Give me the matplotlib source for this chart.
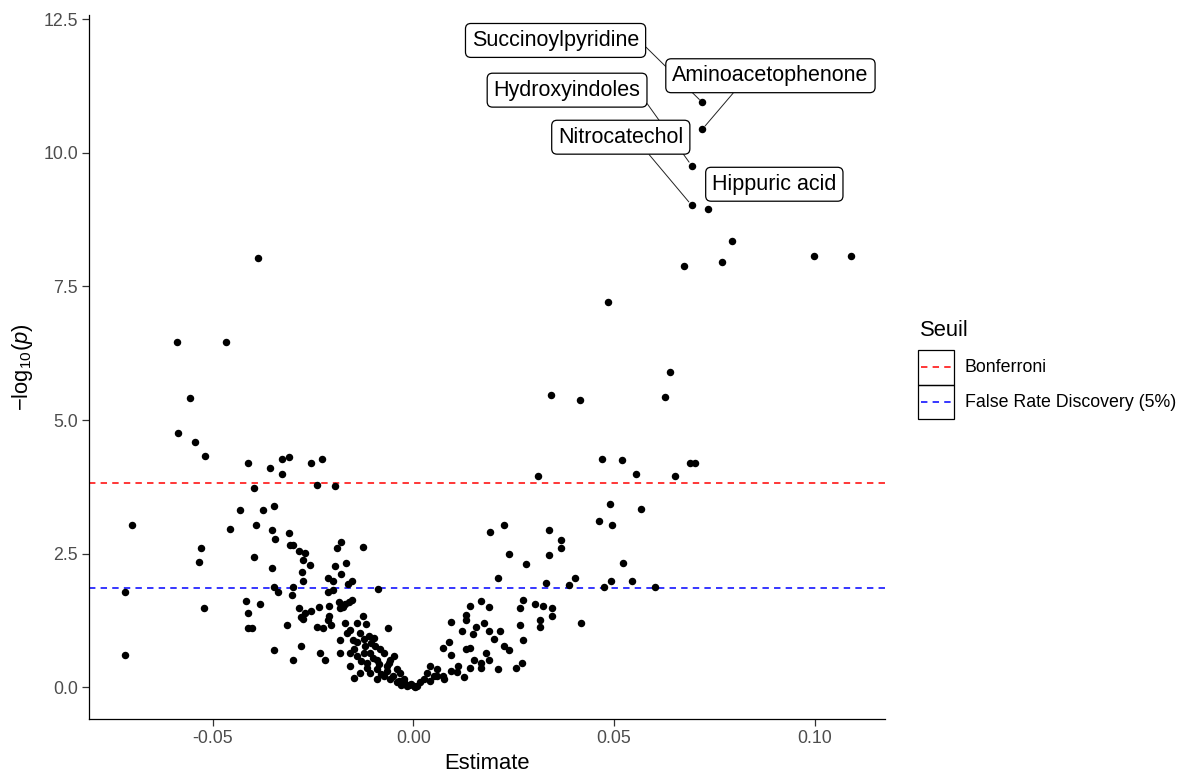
import matplotlib
matplotlib.use("Agg")
import matplotlib.pyplot as plt
from matplotlib.lines import Line2D
from matplotlib.patches import Rectangle
import numpy as np

plt.rcParams['font.family'] = ['Liberation Sans', 'DejaVu Sans']
plt.rcParams['mathtext.fontset'] = 'custom'
plt.rcParams['mathtext.rm'] = 'Liberation Sans'
plt.rcParams['mathtext.it'] = 'Liberation Sans:italic'

# === Data ===
estimate = [
    -0.0386, -0.0589, -0.0466, -0.0556, -0.0586, -0.0544, -0.0518, -0.0412, -0.0397, -0.0431,
    -0.0702, -0.0457, -0.0391, -0.0529, -0.0534, -0.0397, -0.0718, -0.0416, -0.0521, -0.0412,
    -0.0412, -0.0402, -0.0718, -0.0356, -0.0326, -0.0311, -0.0326, -0.0254, -0.0228, -0.0239,
    -0.0194, -0.0375, -0.0348, -0.0352, -0.0345, -0.0311, -0.0307, -0.0299, -0.0286, -0.0269,
    -0.0274, -0.0258, -0.0277, -0.0274, -0.0352, -0.0348, -0.0337, -0.0299, -0.0303, -0.0382,
    -0.0286, -0.0280, -0.0274, -0.0269, -0.0254, -0.0315, -0.0348, -0.0280, -0.0299, -0.0232,
    -0.0220, -0.0235, -0.0209, -0.0209, -0.0213, -0.0239, -0.0224, -0.0204, -0.0213, -0.0201,
    -0.0213, -0.0201, -0.0194, -0.0179, -0.0167, -0.0190, -0.0179, -0.0125, -0.0163, -0.0152,
    -0.0186, -0.0171, -0.0160, -0.0152, -0.0182, -0.0175, -0.0088, -0.0182, -0.0182, -0.0148,
    -0.0062, -0.0125, -0.0118, -0.0165, -0.0157, -0.0140, -0.0132, -0.0124, -0.0111, -0.0099,
    -0.0157, -0.0149, -0.0140, -0.0124, -0.0115, -0.0107, -0.0095, -0.0091, -0.0082, -0.0074,
    -0.0066, -0.0057, -0.0049, -0.0041, -0.0032, -0.0024, -0.0016, -0.0157, -0.0132, -0.0107,
    -0.0091, -0.0074, -0.0057, -0.0041, -0.0091, -0.0115, -0.0007, -0.0024, -0.0140, -0.0120,
    -0.0100, -0.0085, -0.0065, -0.0050, -0.0035, -0.0105, -0.0130, -0.0150, -0.0170, -0.0080,
    -0.0060, -0.0030, -0.0012, 0.0005,
    0.0009, 0.0001, 0.0017, 0.0026, 0.0034, 0.0042, 0.0051, 0.0059, 0.0074, 0.0093,
    0.0076, 0.0042, 0.0059, 0.0112, 0.0142, 0.0169, 0.0210, 0.0150, 0.0169, 0.0188,
    0.0180, 0.0225, 0.0239, 0.0131, 0.0142, 0.0074, 0.0093, 0.0089, 0.0200, 0.0188,
    0.0217, 0.0149, 0.0157, 0.0176, 0.0120, 0.0093, 0.0131, 0.0131, 0.0188, 0.0168,
    0.0142, 0.0271, 0.0256, 0.0274, 0.0266, 0.0316, 0.0316, 0.0346, 0.0346, 0.0304,
    0.0323, 0.0266, 0.0274, 0.0330, 0.0210, 0.0338, 0.0281, 0.0239, 0.0338, 0.0225,
    0.0190, 0.0311, 0.0368, 0.0368, 0.0387, 0.0402, 0.0417, 0.0474, 0.0493, 0.0545,
    0.0602, 0.0523, 0.0462, 0.0496, 0.0490, 0.0568, 0.0470, 0.0519, 0.0554, 0.0652,
    0.0689, 0.0701, 0.0342, 0.0414, 0.0628, 0.0639, 0.0486, 0.0674, 0.0769, 0.0795,
    0.0998, 0.1090, 0.0110, 0.0125,
    0.0720, 0.0720, 0.0693, 0.0693, 0.0734,
]
neglog10p = [
    8.03, 6.45, 6.45, 5.41, 4.75, 4.58, 4.33, 4.19, 3.73, 3.31,
    3.03, 2.97, 3.03, 2.61, 2.35, 2.44, 1.79, 1.61, 1.48, 1.39,
    1.10, 1.10, 0.60, 4.10, 4.27, 4.31, 3.99, 4.19, 4.27, 3.79,
    3.76, 3.31, 3.39, 2.95, 2.78, 2.89, 2.67, 2.67, 2.55, 2.52,
    2.38, 2.29, 2.15, 1.98, 2.24, 1.87, 1.79, 1.87, 1.73, 1.56,
    1.48, 1.31, 1.28, 1.39, 1.42, 1.16, 0.69, 0.77, 0.51, 0.65,
    0.51, 1.50, 1.53, 1.33, 1.25, 1.13, 1.10, 1.16, 2.04, 1.98,
    1.79, 1.82, 2.27, 2.12, 2.32, 2.61, 2.72, 2.63, 1.93, 1.98,
    1.59, 1.56, 1.59, 1.64, 1.48, 1.50, 1.84, 0.88, 0.65, 0.18,
    1.10, 1.33, 1.19, 1.02, 1.08, 1.21, 1.02, 0.90, 0.96, 0.93,
    0.65, 0.71, 0.58, 0.65, 0.46, 0.65, 0.77, 0.52, 0.71, 0.65,
    0.40, 0.52, 0.58, 0.34, 0.27, 0.09, 0.02, 0.40, 0.27, 0.27,
    0.15, 0.21, 0.15, 0.09, 0.34, 0.37, 0.06, 0.15, 0.85, 0.78,
    0.55, 0.44, 0.30, 0.22, 0.12, 0.82, 0.50, 0.88, 1.20, 0.25,
    0.45, 0.05, 0.04, 0.00,
    0.02, 0.02, 0.09, 0.15, 0.27, 0.12, 0.21, 0.34, 0.21, 0.31,
    0.15, 0.40, 0.21, 0.40, 0.37, 0.37, 0.34, 0.51, 0.45, 0.51,
    0.65, 0.77, 0.69, 0.71, 0.74, 0.74, 0.60, 0.85, 0.91, 1.05,
    1.05, 1.00, 1.13, 1.20, 1.05, 1.22, 1.36, 1.25, 1.50, 1.61,
    1.53, 0.45, 0.37, 0.88, 1.16, 1.25, 1.13, 1.48, 1.33, 1.56,
    1.53, 1.48, 1.64, 1.96, 2.04, 2.47, 2.30, 2.49, 2.95, 3.03,
    2.91, 3.96, 2.75, 2.60, 1.92, 2.04, 1.20, 1.87, 1.99, 1.99,
    1.87, 2.32, 3.11, 3.03, 3.42, 3.34, 4.27, 4.25, 3.99, 3.96,
    4.19, 4.19, 5.46, 5.38, 5.43, 5.89, 7.21, 7.89, 7.95, 8.35,
    8.06, 8.06, 0.28, 0.20,
    10.94, 10.44, 9.76, 9.02, 8.94,
]

# labelled metabolites (point estimate, -log10 p)
label_names = ["Succinoylpyridine", "Hydroxyindoles", "Aminoacetophenone",
               "Nitrocatechol", "Hippuric acid"]
label_est = [0.0720, 0.0693, 0.0720, 0.0693, 0.0734]
label_p = [10.94, 9.76, 10.44, 9.02, 8.94]

# thresholds
bonferroni = 3.83
fdr_5 = 1.85
seuil_names = ["Bonferroni", "False Rate Discovery (5%)"]
seuil_colors = ["#FF0000", "#0000FF"]

W, H = 1190, 774
fig = plt.figure(figsize=(W / 100, H / 100), dpi=100)
ax = fig.add_axes([89 / W, (H - 719) / H, (885 - 89) / W, (719 - 15) / H])

ax.scatter(estimate, neglog10p, s=29, color="black", linewidths=0, zorder=2)

dash = (0, (4.2, 3.4))
ax.axhline(bonferroni, color=seuil_colors[0], lw=1.1, ls=dash, zorder=1)
ax.axhline(fdr_5, color=seuil_colors[1], lw=1.1, ls=dash, zorder=1)

# label boxes (positions of the repelled labels)
label_pos = [(0.03543, 12.10), (0.0383, 11.17), (0.08896, 11.44),
             (0.05168, 10.29), (0.08993, 9.41)]
seg_from = [(1.0, 0.5), (1.0, 0.3), (0.34, 0.0), (0.68, 0.0), None]
for name, ex, py, pos, rp in zip(label_names, label_est, label_p, label_pos, seg_from):
    arrow = None
    if rp is not None:
        arrow = dict(arrowstyle="-", color="#222222", lw=0.7,
                     shrinkA=0, shrinkB=3, relpos=rp)
    ax.annotate(name, xy=(ex, py), xytext=pos, textcoords="data",
                ha="center", va="center", fontsize=15.5, color="black",
                bbox=dict(boxstyle="round,pad=0.3,rounding_size=0.25",
                          fc="white", ec="black", lw=0.9),
                arrowprops=arrow, zorder=3)

ax.set_xlim(-0.0808, 0.1175)
ax.set_ylim(-0.593, 12.576)
xt = [-0.05, 0.0, 0.05, 0.10]
ax.set_xticks(xt)
ax.set_xticklabels(["-0.05", "0.00", "0.05", "0.10"])
yt = [0, 2.5, 5, 7.5, 10, 12.5]
ax.set_yticks(yt)
ax.set_yticklabels(["0.0", "2.5", "5.0", "7.5", "10.0", "12.5"])
ax.tick_params(length=5, width=0.9, color="#333333", labelsize=12.8,
               labelcolor="#4D4D4D", pad=3)

for side in ["top", "right"]:
    ax.spines[side].set_visible(False)
for side in ["left", "bottom"]:
    ax.spines[side].set_linewidth(0.9)
    ax.spines[side].set_color("black")

ax.set_xlabel("Estimate", fontsize=15.8, color="black", labelpad=4)
ax.set_ylabel("\u2212log$_{10}$($p$)", fontsize=15.8, color="black", labelpad=6)

# legend drawn by hand to keep ggplot's boxed keys
fig.text(920 / W, 1 - 330 / H, "Seuil", fontsize=15.8, va="center", ha="left")
key_top = [350, 384.7]
for i, (nm, col) in enumerate(zip(seuil_names, seuil_colors)):
    y0 = key_top[i]
    fig.patches.append(Rectangle((918.3 / W, 1 - (y0 + 34.7) / H), 35.7 / W, 34.7 / H,
                                 transform=fig.transFigure, fill=False,
                                 ec="black", lw=0.9))
    yc = 1 - (y0 + 17.35) / H
    fig.lines.append(Line2D([921 / W, 952 / W], [yc, yc], transform=fig.transFigure,
                            color=col, lw=1.1, ls=dash))
    fig.text(965 / W, yc, nm, fontsize=12.8, va="center", ha="left", color="black")

fig.savefig("out.png", dpi=100)
